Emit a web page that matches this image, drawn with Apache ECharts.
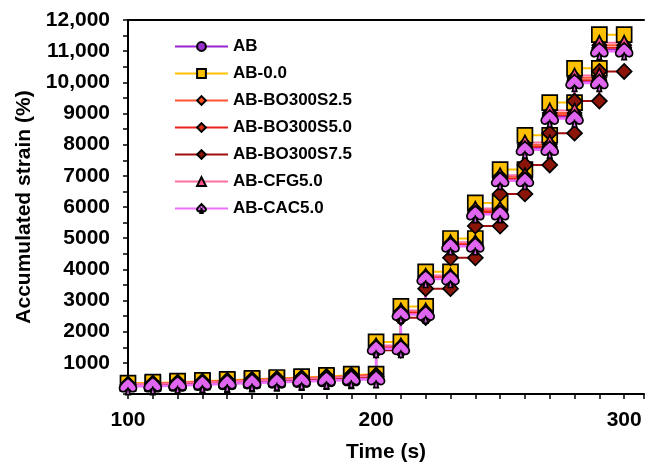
<!DOCTYPE html>
<html>
<head>
<meta charset="utf-8">
<script src="https://cdn.jsdelivr.net/npm/echarts@6/dist/echarts.min.js"></script>
<style>
html,body{margin:0;padding:0;background:#fff;}
#chart{width:647px;height:468px;}
</style>
</head>
<body>
<div id="chart"></div>
<script>
// Step intervals (s): each level holds from stepStart to stepEnd
var stepStart = [100,110,120,130,140,150,160,170,180,190,200,210,220,230,240,250,260,270,280,290];
var stepEnd   = [110,120,130,140,150,160,170,180,190,200,210,220,230,240,250,260,270,280,290,300];

var seriesNames = ['AB','AB-0.0','AB-BO300S2.5','AB-BO300S5.0','AB-BO300S7.5','AB-CFG5.0','AB-CAC5.0'];

// Accumulated strain (%) level for each interval
var valAB      = [290,315,340,365,390,415,440,465,490,520, 1470,2580,3710,4770,5810,6880,7890,8890,10030,11050];
var valAB00    = [350,380,410,440,470,500,530,560,600,640, 1670,2810,3920,4990,6130,7200,8300,9350,10450,11530];
var valBOS25   = [330,360,390,420,450,480,510,540,580,620, 1530,2640,3770,4830,5900,6970,8000,9020,10150,11190];
var valBOS50   = [320,350,380,410,440,470,500,530,565,600, 1490,2600,3740,4790,5840,6910,7930,8940,10070,11110];
var valBOS75   = [300,330,355,385,410,440,465,495,520,550, 1400,2450,3380,4370,5390,6420,7350,8370,9400,10350];
var valCFG     = [320,350,375,405,430,460,490,520,550,580, 1560,2680,3800,4870,5950,7020,8070,9100,10220,11270];
var valCAC     = [250,275,300,325,350,375,400,425,450,480, 1450,2550,3690,4740,5770,6840,7840,8840,9980,11000];

var xTickLabels = [100,200,300];

function stepData(vals){
  var d = [];
  for (var i = 0; i < vals.length; i++){
    d.push([stepStart[i], vals[i]]);
    d.push([stepEnd[i], vals[i]]);
  }
  return d;
}

var spade = 'path://M50 0 C60 14 100 38 100 62 C100 80 80 88 66 78 C62 75 58 72 55 69 L63 100 L37 100 L45 69 C42 72 38 75 34 78 C20 88 0 80 0 62 C0 38 40 14 50 0 Z';

var styles = [
  {vals: valAB,    line:'#9B22D0', fill:'#9932CC', symbol:'circle',  size:14, w:2},
  {vals: valAB00,  line:'#FFC000', fill:'#FFC000', symbol:'rect',    size:15, w:2},
  {vals: valBOS25, line:'#FF5533', fill:'#FF4A1A', symbol:'diamond', size:14, w:2},
  {vals: valBOS50, line:'#E8201A', fill:'#D92D10', symbol:'diamond', size:14, w:2},
  {vals: valBOS75, line:'#9E0E0E', fill:'#8B1508', symbol:'diamond', size:15, w:2},
  {vals: valCFG,   line:'#FF6FA0', fill:'#FF4F8F', symbol:'triangle',size:14, w:2},
  {vals: valCAC,   line:'#EE70FF', fill:'#E066F0', symbol:spade,     size:17, w:2.5}
];

var FONT = 'Arial, "Liberation Sans", sans-serif';

var series = styles.map(function(s, i){
  return {
    name: seriesNames[i],
    type: 'line',
    data: stepData(s.vals),
    symbol: s.symbol,
    symbolSize: s.size,
    symbolKeepAspect: true,
    showAllSymbol: true,
    lineStyle: {color: s.line, width: s.w},
    itemStyle: {color: s.fill, borderColor: '#000', borderWidth: 1.7},
    emphasis: {disabled: true},
    animation: false
  };
});

var chart = echarts.init(document.getElementById('chart'), null, {renderer:'canvas'});
chart.setOption({
  backgroundColor: '#fff',
  animation: false,
  textStyle: {fontFamily: FONT},
  grid: {left: 128, top: 20, right: 0, bottom: 69},
  legend: {
    orient: 'vertical',
    left: 174, top: 37, padding: 0,
    itemWidth: 53, itemHeight: 11, itemGap: 8,
    textStyle: {fontFamily: FONT, fontWeight: 'bold', fontSize: 17, color: '#000', lineHeight: 19},
    data: seriesNames
  },
  xAxis: [{
    type: 'value', min: 100, max: 308, interval: 10,
    name: 'Time (s)', nameLocation: 'middle', nameGap: 48,
    nameTextStyle: {fontFamily: FONT, fontWeight: 'bold', fontSize: 21, color: '#000'},
    axisLine: {show: true, onZero: false, lineStyle: {color: '#000', width: 2}},
    axisTick: {show: true, inside: false, length: 5, lineStyle: {color: '#000', width: 1.5}},
    axisLabel: {
      interval: 0, margin: 16, fontFamily: FONT, fontWeight: 'bold', fontSize: 21, color: '#000',
      formatter: function(v){ return xTickLabels.indexOf(v) >= 0 ? String(v) : ''; }
    },
    splitLine: {show: false}
  }, {
    type: 'value', min: 100, max: 308, position: 'top',
    axisLine: {show: true, onZero: false, lineStyle: {color: '#000', width: 2}},
    axisTick: {show: false}, axisLabel: {show: false}, splitLine: {show: false}
  }],
  yAxis: {
    type: 'value', min: 0, max: 12000, interval: 1000,
    name: 'Accumulated strain (%)', nameLocation: 'middle', nameGap: 91,
    nameTextStyle: {fontFamily: FONT, fontWeight: 'bold', fontSize: 21, color: '#000'},
    axisLine: {show: true, onZero: false, lineStyle: {color: '#000', width: 2}},
    axisTick: {show: true, length: 5, lineStyle: {color: '#000', width: 1.5}},
    minorTick: {show: true, splitNumber: 2, length: 5, lineStyle: {color: '#000', width: 1.5}},
    axisLabel: {
      margin: 18, fontFamily: FONT, fontWeight: 'bold', fontSize: 21, color: '#000',
      formatter: function(v){
        if (v === 0) return '';
        if (v >= 10000) return String(v).replace(/\B(?=(\d{3})+(?!\d))/g, ',');
        return String(v);
      }
    },
    splitLine: {show: false}
  },
  series: series
});
</script>
</body>
</html>
